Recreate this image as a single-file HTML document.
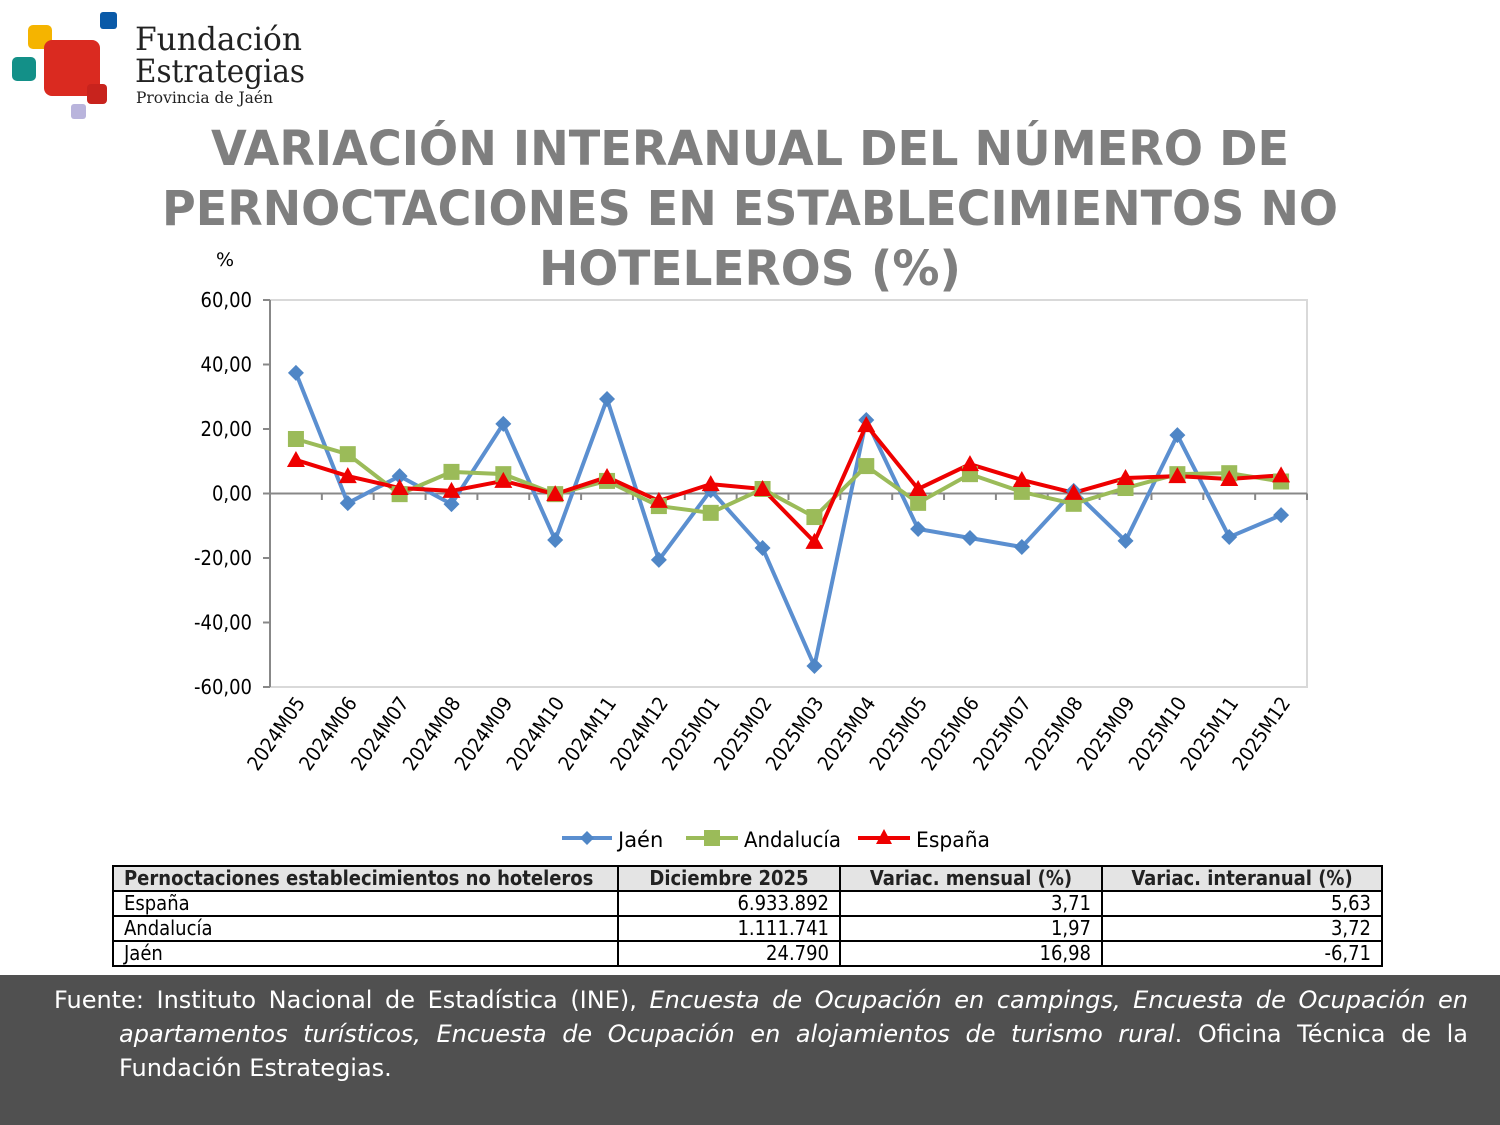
<!DOCTYPE html>
<html><head><meta charset="utf-8"><style>
body{margin:0;width:1500px;height:1125px;background:#fff;overflow:hidden;position:relative;font-family:"DejaVu Sans","Liberation Sans",sans-serif}
svg{position:absolute;left:0;top:0}
table{position:absolute;left:112px;top:865px;width:1271px;border-collapse:collapse;font-size:20px;font-family:"DejaVu Sans Condensed","DejaVu Sans",sans-serif}
td{border:2px solid #000;height:23px;padding:0 10px;line-height:23px}
tr.h td{background:#e4e4e4;font-weight:bold;text-align:center;color:#222}
td.r{text-align:right;padding-right:10px}
.foot{position:absolute;left:0;top:975px;width:1500px;height:150px;background:#505050;color:#fff;font-family:"DejaVu Sans","Liberation Sans",sans-serif;font-size:24px;line-height:34px}
.foot p{margin:0;position:absolute;left:54px;top:8px;width:1414px;box-sizing:border-box;text-align:justify;padding-left:65px;text-indent:-65px}
</style></head><body>
<svg width="1500" height="975" id="s">
<rect x="28" y="25" width="24" height="24" rx="5" fill="#f5b400"/>
<rect x="12" y="57" width="24" height="24" rx="5" fill="#139088"/>
<rect x="100" y="12" width="17" height="17" rx="3" fill="#0a5aa8"/>
<rect x="44" y="40" width="56" height="56" rx="8" fill="#da2a20"/>
<rect x="87" y="84" width="20" height="20" rx="4" fill="#c8231d"/>
<rect x="71" y="104" width="15" height="15" rx="3" fill="#b9b4dc"/>
<text x="135" y="50" font-family="DejaVu Serif,serif" font-size="32" fill="#222" textLength="167" lengthAdjust="spacingAndGlyphs">Fundación</text>
<text x="135" y="82" font-family="DejaVu Serif,serif" font-size="32" fill="#222" textLength="170" lengthAdjust="spacingAndGlyphs">Estrategias</text>
<text x="136" y="103" font-family="DejaVu Serif,serif" font-size="16" fill="#222" textLength="137" lengthAdjust="spacingAndGlyphs">Provincia de Jaén</text>
<g font-weight="bold" font-size="48" fill="#7f7f7f" text-anchor="middle">
<text x="750" y="165" textLength="1078" lengthAdjust="spacingAndGlyphs">VARIACIÓN INTERANUAL DEL NÚMERO DE</text>
<text x="750" y="225" textLength="1176" lengthAdjust="spacingAndGlyphs">PERNOCTACIONES EN ESTABLECIMIENTOS NO</text>
<text x="750" y="285" textLength="422" lengthAdjust="spacingAndGlyphs">HOTELEROS (%)</text>
</g>
<text x="216" y="266" font-size="19" fill="#000">%</text>
<rect x="270" y="300" width="1037" height="387" fill="none" stroke="#d9d9d9" stroke-width="2"/>
<g id="g"></g>
</svg>
<table>
<tr class="h"><td style="text-align:left">Pernoctaciones establecimientos no hoteleros</td><td style="width:200px">Diciembre 2025</td><td style="width:240px">Variac. mensual (%)</td><td style="width:258px">Variac. interanual (%)</td></tr>
<tr><td>España</td><td class="r">6.933.892</td><td class="r">3,71</td><td class="r">5,63</td></tr>
<tr><td>Andalucía</td><td class="r">1.111.741</td><td class="r">1,97</td><td class="r">3,72</td></tr>
<tr><td>Jaén</td><td class="r">24.790</td><td class="r">16,98</td><td class="r">-6,71</td></tr>
</table>
<div class="foot"><p>Fuente: Instituto Nacional de Estadística (INE), <i>Encuesta de Ocupación en campings, Encuesta de Ocupación en apartamentos turísticos, Encuesta de Ocupación en alojamientos de turismo rural</i>. Oficina Técnica de la Fundación Estrategias.</p></div>
<script>
var J=[37.4,-3,5.4,-3.3,21.6,-14.4,29.3,-20.6,1,-16.9,-53.5,22.8,-11,-13.8,-16.6,0.8,-14.7,18.1,-13.5,-6.71];
var A=[16.9,12.2,-0.2,6.7,6,-0.2,3.9,-3.9,-6,1.4,-7.3,8.5,-2.9,6,0.5,-3.2,1.7,6,6.3,3.72];
var E=[10.4,5.4,1.7,0.8,3.9,-0.2,5.1,-2.3,2.9,1.4,-15,21.2,1.4,9.1,4.2,0.2,4.8,5.4,4.5,5.63];
var labs=["2024M05","2024M06","2024M07","2024M08","2024M09","2024M10","2024M11","2024M12","2025M01","2025M02","2025M03","2025M04","2025M05","2025M06","2025M07","2025M08","2025M09","2025M10","2025M11","2025M12"];
function X(i){return 270+51.85*(i+0.5)}function Y(v){return 493.5-v*3.225}
var s='';
for(var k=-60;k<=60;k+=20){var y=Y(k);s+='<line x1="263" x2="270" y1="'+y+'" y2="'+y+'" stroke="#888" stroke-width="2"/>';
s+='<text x="252" y="'+(y+7)+'" font-size="20" text-anchor="end" font-family="DejaVu Sans Condensed,DejaVu Sans,sans-serif">'+(k).toFixed(2).replace('.',',')+'</text>';}
s+='<line x1="270" x2="270" y1="300" y2="687" stroke="#888" stroke-width="2"/>';
s+='<line x1="270" x2="1307" y1="493.5" y2="493.5" stroke="#888" stroke-width="2"/>';
for(var i=0;i<=20;i++){var x=270+51.85*i;s+='<line x1="'+x+'" x2="'+x+'" y1="493.5" y2="500" stroke="#888" stroke-width="2"/>';}
for(var i=0;i<20;i++){s+='<text transform="translate('+(X(i)+10)+',703) rotate(-55)" text-anchor="end" font-size="20" font-family="DejaVu Sans Condensed,DejaVu Sans,sans-serif">'+labs[i]+'</text>';}
function line(d,c){return '<polyline fill="none" stroke="'+c+'" stroke-width="4" points="'+d.map(function(v,i){return X(i)+','+Y(v)}).join(' ')+'"/>'}
s+=line(J,'#5b8fd0')+line(A,'#9bbb59')+line(E,'#ee0000');
J.forEach(function(v,i){var x=X(i),y=Y(v);s+='<polygon points="'+x+','+(y-8)+' '+(x+8)+','+y+' '+x+','+(y+8)+' '+(x-8)+','+y+'" fill="#4f86c6"/>'});
A.forEach(function(v,i){var x=X(i),y=Y(v);s+='<rect x="'+(x-8)+'" y="'+(y-8)+'" width="16" height="16" fill="#9bbb59"/>'});
E.forEach(function(v,i){var x=X(i),y=Y(v);s+='<polygon points="'+x+','+(y-9)+' '+(x+9)+','+(y+7)+' '+(x-9)+','+(y+7)+'" fill="#ee0000"/>'});
s+='<line x1="562" x2="612" y1="838" y2="838" stroke="#5b8fd0" stroke-width="4"/><polygon points="587,831 594,838 587,845 580,838" fill="#4f86c6"/><text x="618" y="847" font-size="21">Jaén</text>';
s+='<line x1="686" x2="738" y1="838" y2="838" stroke="#9bbb59" stroke-width="4"/><rect x="704" y="830" width="16" height="16" fill="#9bbb59"/><text x="744" y="847" font-size="21" textLength="97" lengthAdjust="spacingAndGlyphs">Andalucía</text>';
s+='<line x1="858" x2="910" y1="838" y2="838" stroke="#ee0000" stroke-width="4"/><polygon points="884,829 892,844 876,844" fill="#ee0000"/><text x="916" y="847" font-size="21" textLength="74" lengthAdjust="spacingAndGlyphs">España</text>';
document.getElementById('g').innerHTML=s;
</script>
</body></html>
